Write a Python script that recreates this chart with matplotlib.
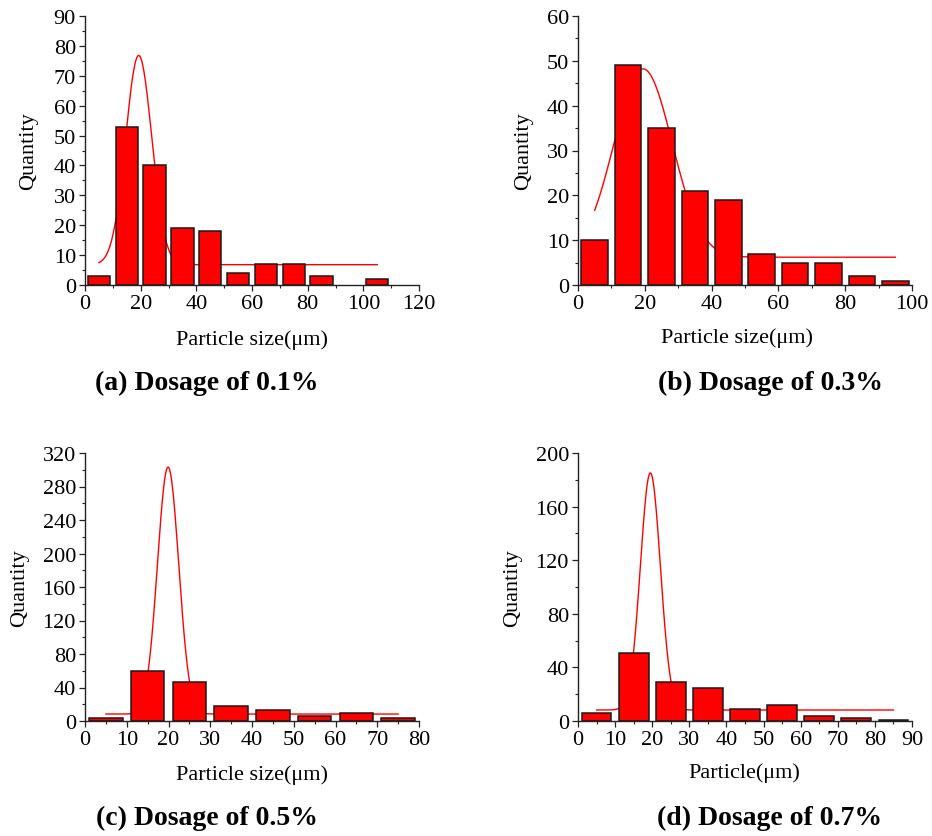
import numpy as np
import matplotlib.pyplot as plt
from matplotlib.ticker import MultipleLocator

plt.rcParams['font.family'] = ['Liberation Serif', 'DejaVu Serif']

# bar centres (um) and counts
size_a = [5, 15, 25, 35, 45, 55, 65, 75, 85, 105]
count_a = [3, 53, 40, 19, 18, 4, 7, 7, 3, 2]

size_b = [5, 15, 25, 35, 45, 55, 65, 75, 85, 95]
count_b = [10, 49, 35, 21, 19, 7, 5, 5, 2, 1]

size_c = [5, 15, 25, 35, 45, 55, 65, 75]
count_c = [3, 60, 46, 18, 13, 6, 9, 3]

size_d = [5, 15, 25, 35, 45, 55, 65, 75, 85]
count_d = [6, 51, 29, 25, 9, 12, 4, 2, 1]

# Gauss fit shown over each histogram: y0, A, xc, w, x range
fit_a = [6.8, 70, 19.3, 9.4, 5, 105]
fit_b = [6.2, 42, 19.5, 17.4, 5, 95]
fit_c = [8.3, 295, 19.9, 5.1, 5, 75]
fit_d = [8.2, 177, 19.5, 5.4, 5, 85]

W, H = 932, 837


def gauss(x, y0, A, xc, w):
    return y0 + A * np.exp(-2 * (x - xc) ** 2 / w ** 2)


def panel(rect, sizes, counts, fit, xmax, xmaj, xmin, ymax, ymaj, ymin,
          xlabel, xlab_pos, ylab_x, caption, cap_xy):
    ax = fig.add_axes(rect)
    y0, A, xc, w, x0, x1 = fit
    xs = np.linspace(x0, x1, 400)
    ax.plot(xs, gauss(xs, y0, A, xc, w), color='red', lw=1.0, zorder=1)
    ax.bar(sizes, counts, width=8, color='#ff0000', edgecolor='#1a1a1a',
           linewidth=1.1, zorder=2)
    ax.set_xlim(0, xmax)
    ax.set_ylim(0, ymax)
    ax.xaxis.set_major_locator(MultipleLocator(xmaj))
    ax.xaxis.set_minor_locator(MultipleLocator(xmin))
    ax.yaxis.set_major_locator(MultipleLocator(ymaj))
    ax.yaxis.set_minor_locator(MultipleLocator(ymin))
    for s in ['top', 'right']:
        ax.spines[s].set_visible(False)
    for s in ['left', 'bottom']:
        ax.spines[s].set_linewidth(1.0)
        ax.spines[s].set_color('#222222')
    ax.tick_params(which='major', direction='out', length=4, width=0.9,
                   labelsize=16, pad=2.5, colors='#222222', labelcolor='black')
    ax.tick_params(which='minor', direction='out', length=2.2, width=0.8,
                   colors='#222222')
    ax.set_xlabel(xlabel, fontsize=16)
    ax.xaxis.label.set_va('center')
    ax.xaxis.set_label_coords(*xlab_pos)
    ax.set_ylabel('Quantity', fontsize=16)
    ax.yaxis.label.set_va('center')
    ax.yaxis.set_label_coords(ylab_x, 0.5)
    fig.text(cap_xy[0] / W, 1 - cap_xy[1] / H, caption, fontsize=20,
             fontweight='bold', ha='center', va='center')
    return ax


fig = plt.figure(figsize=(W / 100, H / 100), dpi=100)

panel([85 / W, 1 - 286 / H, 334 / W, 269 / H], size_a, count_a, fit_a,
      120, 20, 10, 90, 10, 5, 'Particle size(μm)', (0.5, -0.20), -0.168,
      '(a) Dosage of 0.1%', (207, 383))
panel([578 / W, 1 - 286 / H, 334 / W, 269 / H], size_b, count_b, fit_b,
      100, 20, 10, 60, 10, 5, 'Particle size(μm)', (0.476, -0.193), -0.162,
      '(b) Dosage of 0.3%', (771, 383))
panel([85 / W, 1 - 722 / H, 334 / W, 268 / H], size_c, count_c, fit_c,
      80, 10, 5, 320, 40, 20, 'Particle size(μm)', (0.5, -0.198), -0.195,
      '(c) Dosage of 0.5%', (207, 818))
panel([578 / W, 1 - 722 / H, 334 / W, 268 / H], size_d, count_d, fit_d,
      90, 10, 5, 200, 40, 20, 'Particle(μm)', (0.497, -0.19), -0.195,
      '(d) Dosage of 0.7%', (770, 818))

fig.savefig('out.png', dpi=100)
